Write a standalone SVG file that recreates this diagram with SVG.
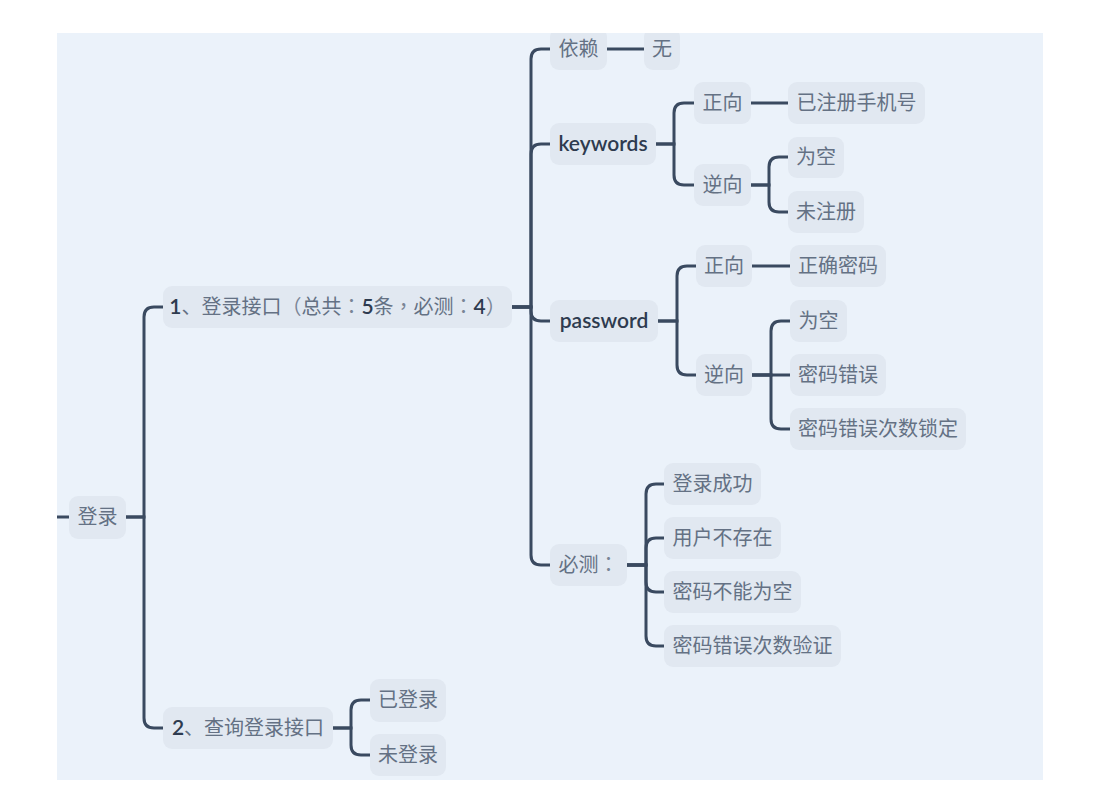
<svg xmlns="http://www.w3.org/2000/svg" width="1103" height="798" viewBox="0 0 1103 798">
<style>
.n rect{fill:#e1e8f1;}
.t{font-family:"Lato","Noto Sans CJK SC",sans-serif;font-size:20px;fill:#647184;text-anchor:middle;}
.d{fill:#2e3b4f;font-weight:600;font-size:21px;}
.p{font-family:"Noto Sans CJK TC",sans-serif;fill:#7a8596;}
.c path{fill:none;stroke:#3a4a60;stroke-width:3;stroke-linecap:butt;}
</style>
<defs><clipPath id="bg"><rect x="57" y="33" width="986" height="747"/></clipPath></defs>
<rect width="1103" height="798" fill="#ffffff"/>
<rect x="57" y="33" width="986" height="747" fill="#ebf2fa"/>
<g clip-path="url(#bg)">
<g class="c" id="connectors">
<path d="M57,517 H69"/>
<path d="M126,517 H144 V317 Q144,307 154,307 H163"/>
<path d="M126,517 H144 V718 Q144,728 154,728 H163"/>
<path d="M512,307 H531 V59 Q531,49 541,49 H550"/>
<path d="M512,307 H531 V154 Q531,144 541,144 H550"/>
<path d="M512,307 H531 V311 Q531,321 541,321 H550"/>
<path d="M512,307 H531 V555 Q531,565 541,565 H550"/>
<path d="M607,49 H644"/>
<path d="M656,144 H674 V113 Q674,103 684,103 H694"/>
<path d="M656,144 H674 V175 Q674,185 684,185 H694"/>
<path d="M751,103 H788"/>
<path d="M751,185 H769 V167 Q769,157 779,157 H788"/>
<path d="M751,185 H769 V202 Q769,212 779,212 H788"/>
<path d="M658,321 H677 V276 Q677,266 687,266 H696"/>
<path d="M658,321 H677 V365 Q677,375 687,375 H696"/>
<path d="M752,266 H790"/>
<path d="M752,375 H771 V331 Q771,321 781,321 H790"/>
<path d="M752,375 H790"/>
<path d="M752,375 H771 V419 Q771,429 781,429 H790"/>
<path d="M627,565 H646 V494 Q646,484 656,484 H664"/>
<path d="M627,565 H646 V548 Q646,538 656,538 H664"/>
<path d="M627,565 H646 V582 Q646,592 656,592 H664"/>
<path d="M627,565 H646 V636 Q646,646 656,646 H664"/>
<path d="M333,728 H351 V710 Q351,700 361,700 H370"/>
<path d="M333,728 H351 V745 Q351,755 361,755 H370"/>
</g>
<g id="n-denglu" class="n"><rect x="69" y="496" width="57" height="43" rx="9"/><text class="t" x="97.5" y="524">登录</text></g>
<g id="n-api1" class="n"><rect x="163" y="286" width="349" height="42" rx="9"/><text class="t" x="337.5" y="314"><tspan class="d">1</tspan>、登录接口<tspan class="p">（</tspan>总共<tspan class="p">：</tspan><tspan class="d">5</tspan>条<tspan class="p">，</tspan>必测<tspan class="p">：</tspan><tspan class="d">4</tspan><tspan class="p">）</tspan></text></g>
<g id="n-api2" class="n"><rect x="163" y="707" width="170" height="42" rx="9"/><text class="t" x="248" y="735"><tspan class="d">2</tspan>、查询登录接口</text></g>
<g id="n-yilai" class="n"><rect x="550" y="28" width="57" height="42" rx="9"/><text class="t" x="578.5" y="56">依赖</text></g>
<g id="n-wu" class="n"><rect x="644" y="28" width="36" height="42" rx="9"/><text class="t" x="662" y="56">无</text></g>
<g id="n-keywords" class="n"><rect x="550" y="123" width="106" height="42" rx="9"/><text class="t d" x="603" y="151">keywords</text></g>
<g id="n-kw-zx" class="n"><rect x="694" y="82" width="57" height="42" rx="9"/><text class="t" x="722.5" y="110">正向</text></g>
<g id="n-kw-zx1" class="n"><rect x="788" y="82" width="137" height="42" rx="9"/><text class="t" x="856.5" y="110">已注册手机号</text></g>
<g id="n-kw-nx" class="n"><rect x="694" y="164" width="57" height="42" rx="9"/><text class="t" x="722.5" y="192">逆向</text></g>
<g id="n-kw-nx1" class="n"><rect x="788" y="137" width="56" height="41" rx="9"/><text class="t" x="816" y="164">为空</text></g>
<g id="n-kw-nx2" class="n"><rect x="788" y="191" width="76" height="42" rx="9"/><text class="t" x="826" y="219">未注册</text></g>
<g id="n-password" class="n"><rect x="550" y="300" width="108" height="42" rx="9"/><text class="t d" x="604" y="328">password</text></g>
<g id="n-pw-zx" class="n"><rect x="696" y="245" width="56" height="42" rx="9"/><text class="t" x="724" y="273">正向</text></g>
<g id="n-pw-zx1" class="n"><rect x="790" y="245" width="96" height="42" rx="9"/><text class="t" x="838" y="273">正确密码</text></g>
<g id="n-pw-nx" class="n"><rect x="696" y="354" width="56" height="42" rx="9"/><text class="t" x="724" y="382">逆向</text></g>
<g id="n-pw-nx1" class="n"><rect x="790" y="300" width="57" height="42" rx="9"/><text class="t" x="818.5" y="328">为空</text></g>
<g id="n-pw-nx2" class="n"><rect x="790" y="354" width="96" height="42" rx="9"/><text class="t" x="838" y="382">密码错误</text></g>
<g id="n-pw-nx3" class="n"><rect x="790" y="408" width="176" height="42" rx="9"/><text class="t" x="878" y="436">密码错误次数锁定</text></g>
<g id="n-bice" class="n"><rect x="550" y="544" width="77" height="42" rx="9"/><text class="t" x="588.5" y="572">必测<tspan class="p">：</tspan></text></g>
<g id="n-bc1" class="n"><rect x="664" y="463" width="97" height="42" rx="9"/><text class="t" x="712.5" y="491">登录成功</text></g>
<g id="n-bc2" class="n"><rect x="664" y="517" width="117" height="42" rx="9"/><text class="t" x="722.5" y="545">用户不存在</text></g>
<g id="n-bc3" class="n"><rect x="664" y="571" width="137" height="42" rx="9"/><text class="t" x="732.5" y="599">密码不能为空</text></g>
<g id="n-bc4" class="n"><rect x="664" y="625" width="177" height="42" rx="9"/><text class="t" x="752.5" y="653">密码错误次数验证</text></g>
<g id="n-ydl" class="n"><rect x="370" y="679" width="76" height="43" rx="9"/><text class="t" x="408" y="707">已登录</text></g>
<g id="n-wdl" class="n"><rect x="370" y="734" width="76" height="42" rx="9"/><text class="t" x="408" y="762">未登录</text></g>
</g>
</svg>
